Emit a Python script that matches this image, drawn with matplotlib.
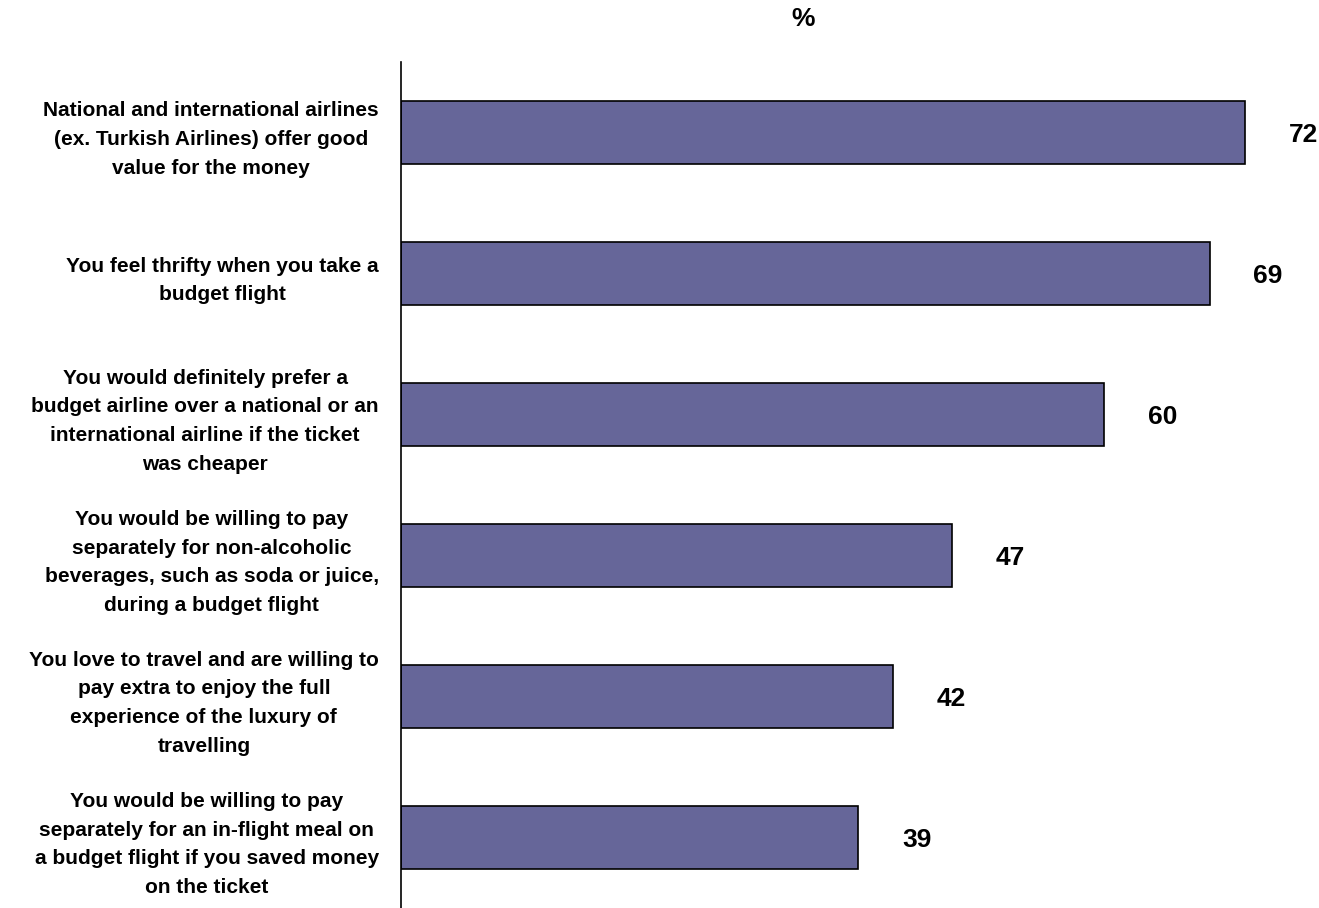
import matplotlib
matplotlib.use("Agg")
import matplotlib.pyplot as plt
import numpy as np

# ── Data ─────────────────────────────────────────────────────────────
LABELS = [
    "National and international airlines\n(ex. Turkish Airlines) offer good\nvalue for the money",
    "You feel thrifty when you take a\nbudget flight",
    "You would definitely prefer a\nbudget airline over a national or an\ninternational airline if the ticket\nwas cheaper",
    "You would be willing to pay\nseparately for non-alcoholic\nbeverages, such as soda or juice,\nduring a budget flight",
    "You love to travel and are willing to\npay extra to enjoy the full\nexperience of the luxury of\ntravelling",
    "You would be willing to pay\nseparately for an in-flight meal on\na budget flight if you saved money\non the ticket",
]
VALUES = [72, 69, 60, 47, 42, 39]

BAR_COLOR = "#666699"
FONT = ["Liberation Sans", "DejaVu Sans"]

fig = plt.figure(figsize=(13.19, 9.08), dpi=100)
ax = fig.add_axes([401 / 1319, 0.0, 914 / 1319, 1 - 62 / 908])

y = np.arange(len(VALUES))
ax.barh(y, VALUES, height=0.44, color=BAR_COLOR, edgecolor="black", linewidth=1.2)

# value labels to the right of each bar
for yi, v in zip(y, VALUES):
    ax.text(v + 5, yi + 0.015, f"{v}", ha="center", va="center", fontsize=19,
            fontweight="bold", family=FONT)

ax.set_xlim(0, 78)
ax.set_ylim(len(VALUES) - 0.5, -0.5)

ax.set_yticks(y)
ax.set_yticklabels(LABELS, fontsize=15, fontweight="bold", family=FONT,
                   linespacing=1.66, multialignment="center")
ax.tick_params(axis="y", length=0, pad=16)
ax.set_xticks([])

for s in ["top", "right", "bottom"]:
    ax.spines[s].set_visible(False)
ax.spines["left"].set_linewidth(1.2)

fig.text(803 / 1319, 1 - 19 / 908, "%", ha="center", va="center",
         fontsize=19, fontweight="bold", family=FONT)

plt.savefig("out.png", dpi=100, facecolor="white")
plt.close()
